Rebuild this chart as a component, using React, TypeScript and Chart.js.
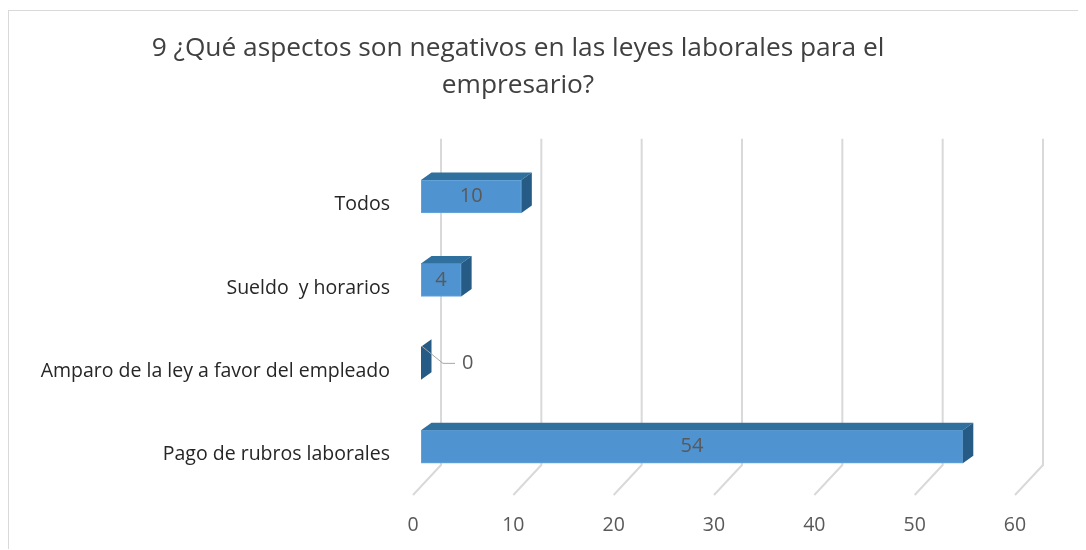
import React, { useEffect, useRef } from "react";
import { Chart, registerables } from "chart.js";

Chart.register(...registerables);

const titleLines = [
  "9 ¿Qué aspectos son negativos en las leyes laborales para el",
  "empresario?",
];
const categories = [
  "Todos",
  "Sueldo  y horarios",
  "Amparo de la ley a favor del empleado",
  "Pago de rubros laborales",
];
const values = [10, 4, 0, 54];
const xMin = 0;
const xMax = 60;
const xStep = 10;

const FONT = '"Open Sans", "DejaVu Sans", sans-serif';
const FRONT = "#4f93d0";
const TOP = "#30709f";
const SIDE = "#265b85";
const DX = 10.5;
const DY = 7.5;

const bar3d = {
  id: "bar3d",
  beforeDraw(chart: any) {
    const { ctx } = chart;
    ctx.save();
    ctx.fillStyle = "#404040";
    ctx.font = `26.3px ${FONT}`;
    ctx.textAlign = "center";
    ctx.textBaseline = "alphabetic";
    ctx.fillText(titleLines[0], 509, 45);
    ctx.fillText(titleLines[1], 509, 82);
    ctx.restore();
  },
  beforeDatasetsDraw(chart: any) {
    const { ctx, chartArea } = chart;
    const x = chart.scales.x;
    const gTop = chartArea.top - 16;
    const gBot = chartArea.bottom - 23.5;
    const aY = chartArea.bottom + 6.5;
    ctx.save();
    ctx.strokeStyle = "#d9d9d9";
    ctx.lineWidth = 2;
    x.ticks.forEach((t: any) => {
      const px = x.getPixelForValue(t.value);
      ctx.beginPath();
      ctx.moveTo(px + 20, gTop);
      ctx.lineTo(px + 20, gBot);
      ctx.lineTo(px - 8, aY);
      ctx.stroke();
    });
    ctx.restore();
  },
  afterDatasetsDraw(chart: any) {
    const { ctx } = chart;
    const meta = chart.getDatasetMeta(0);
    ctx.save();
    meta.data.forEach((el: any, i: number) => {
      const p = el.getProps(["x", "y", "base", "height"], true);
      const left = Math.min(p.base, p.x);
      const right = Math.max(p.base, p.x);
      const top = p.y - p.height / 2;
      const bottom = p.y + p.height / 2;
      // top face
      ctx.fillStyle = TOP;
      ctx.beginPath();
      ctx.moveTo(left, top);
      ctx.lineTo(left + DX, top - DY);
      ctx.lineTo(right + DX, top - DY);
      ctx.lineTo(right, top);
      ctx.closePath();
      ctx.fill();
      // side face
      ctx.fillStyle = SIDE;
      ctx.beginPath();
      ctx.moveTo(right, top);
      ctx.lineTo(right + DX, top - DY);
      ctx.lineTo(right + DX, bottom - DY);
      ctx.lineTo(right, bottom);
      ctx.closePath();
      ctx.fill();

      // data labels
      ctx.font = `20px ${FONT}`;
      ctx.fillStyle = "#595959";
      ctx.textBaseline = "middle";
      const v = values[i];
      if (v === 0) {
        ctx.strokeStyle = "#a6a6a6";
        ctx.lineWidth = 1;
        ctx.beginPath();
        ctx.moveTo(right + 1, p.y - 17);
        ctx.lineTo(right + 22, p.y);
        ctx.lineTo(right + 34, p.y);
        ctx.stroke();
        ctx.textAlign = "left";
        ctx.fillText(String(v), right + 41, p.y);
      } else {
        ctx.textAlign = "center";
        ctx.fillText(String(v), (left + right) / 2, p.y);
      }
    });
    ctx.restore();
  },
};

export default function App() {
  const ref = useRef<HTMLCanvasElement>(null);
  useEffect(() => {
    if (!ref.current) return;
    const chart = new Chart(ref.current, {
      type: "bar",
      data: {
        labels: categories,
        datasets: [
          {
            data: values,
            backgroundColor: FRONT,
            borderColor: "#6aa6dc",
            borderWidth: 1,
            borderSkipped: false,
            barThickness: 33,
          },
        ],
      },
      options: {
        indexAxis: "y",
        responsive: false,
        animation: false,
        devicePixelRatio: 1,
        layout: { padding: { left: 0, right: 63, top: 143.8, bottom: 0 } },
        plugins: {
          legend: { display: false },
          tooltip: { enabled: false },
          title: { display: false },
        },
        scales: {
          x: {
            min: xMin,
            max: xMax,
            grid: { display: false, drawTicks: false },
            border: { display: false },
            ticks: {
              stepSize: xStep,
              labelOffset: -8,
              padding: 25,
              color: "#595959",
              font: { family: FONT, size: 19.5 },
            },
            afterFit: (s: any) => {
              s.height = 61.5;
            },
          },
          y: {
            grid: { display: false, drawTicks: false },
            border: { display: false },
            ticks: {
              padding: 31,
              labelOffset: 8,
              color: "#262626",
              font: { family: FONT, size: 19.5 },
            },
            afterFit: (s: any) => {
              s.width = 412;
            },
          },
        },
      },
      plugins: [bar3d],
    });
    return () => chart.destroy();
  }, []);
  return (
    <div
      style={{
        position: "relative",
        top: 2,
        width: 1078,
        height: 540,
        borderTop: "1px solid #d9d9d9",
        borderLeft: "1px solid #d9d9d9",
        overflow: "hidden",
      }}
    >
      <canvas
        ref={ref}
        width={1077}
        height={539}
        style={{ position: "absolute", left: 0, top: 0, width: 1077, height: 539 }}
      />
    </div>
  );
}
